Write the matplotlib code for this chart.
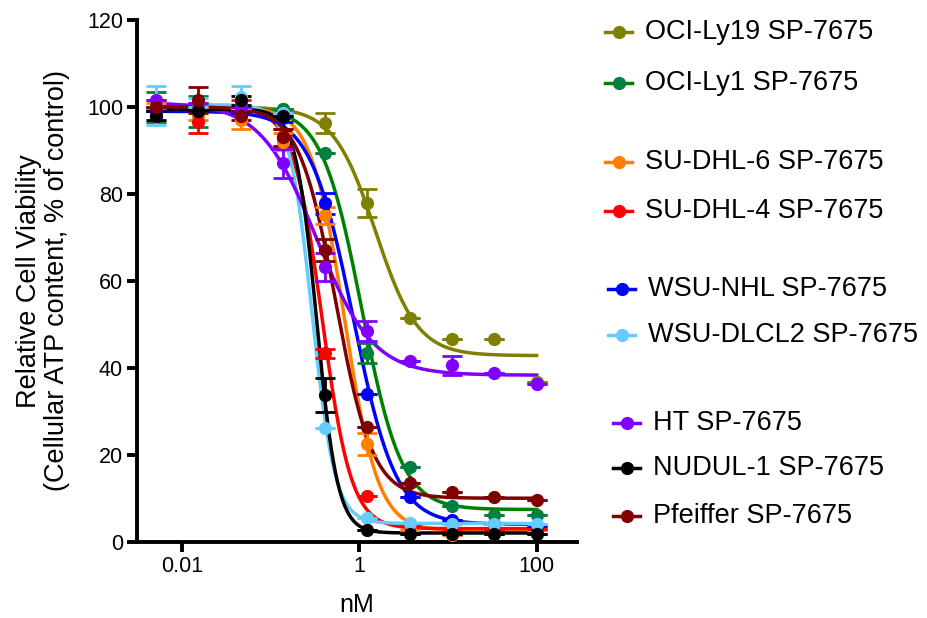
import numpy as np
import matplotlib
matplotlib.use("Agg")
import matplotlib.pyplot as plt
from matplotlib.lines import Line2D
from matplotlib.ticker import NullLocator

plt.rcParams["font.family"] = ["Liberation Sans", "DejaVu Sans"]

# doses (nM), 3-fold dilution
doses = [0.00508, 0.0152, 0.0457, 0.137, 0.412, 1.23, 3.70, 11.1, 33.3, 100]

names = [
    "OCI-Ly19 SP-7675", "OCI-Ly1 SP-7675",
    "SU-DHL-6 SP-7675", "SU-DHL-4 SP-7675",
    "WSU-NHL SP-7675", "WSU-DLCL2 SP-7675",
    "HT SP-7675", "NUDUL-1 SP-7675", "Pfeiffer SP-7675",
]

ly19 = [99.5, 100, 100, 99.5, 96.2, 77.9, 51.5, 46.6, 46.6, 36.8]
ly1 = [100, 99, 100, 99.6, 89.3, 43.3, 17.1, 8.2, 6.1, 6.1]
dhl6 = [100, 98, 97, 92, 75.1, 22.5, 2.7, 1.5, 1.8, 2.8]
dhl4 = [100, 96.5, 100.5, 93, 43.3, 10.6, 3.8, 3.0, 3.0, 3.0]
nhl = [99, 99, 98.5, 97.5, 77.8, 34.0, 10.3, 5.1, 4.0, 3.5]
dlcl2 = [100.3, 101, 102.3, 98.5, 26.1, 5.5, 4.2, 4.0, 4.0, 4.0]
ht = [101.5, 101, 100, 87.0, 63.1, 48.5, 41.5, 40.6, 38.9, 36.3]
nudul = [98, 99, 101.5, 98, 33.7, 2.7, 1.7, 1.7, 1.7, 1.7]
pfeiffer = [100, 101.5, 98, 93, 67.1, 26.4, 13.4, 11.5, 10.2, 9.7]

ly19_sd = [0, 0, 0, 0, 2.3, 3.3, 0, 0, 0, 0]
ly1_sd = [3.5, 3.5, 0, 0, 0, 2.3, 0, 0, 0, 0]
dhl6_sd = [1, 1, 2, 2, 2, 2.5, 0, 0, 0, 0]
dhl4_sd = [0, 2.5, 1, 2, 1, 0, 0, 0, 0, 0]
nhl_sd = [0, 0, 0, 1, 2.5, 0, 0, 0, 0, 0]
dlcl2_sd = [4.5, 1, 2.6, 0, 0, 0, 0, 0, 0, 0]
ht_sd = [0, 0, 0, 3.3, 3.2, 2.3, 0, 2.2, 0, 0]
nudul_sd = [1, 0, 1, 0, 3.9, 0, 0, 0, 0, 0]
pfeiffer_sd = [0, 3, 1, 2, 2.5, 0, 0, 0, 0, 0]

# 4PL fit parameters: top, bottom, IC50 (nM), hill slope
tops = [100, 100, 100, 100, 99, 100.5, 101, 99.5, 100]
bottoms = [42.8, 7.4, 2.5, 3.0, 4.0, 4.2, 38.3, 2.0, 10.0]
ic50s = [1.52, 1.06, 0.68, 0.379, 0.85, 0.293, 0.331, 0.33, 0.543]
hills = [1.83, 1.93, 2.3, 2.62, 1.8, 3.36, 1.37, 3.68, 2.09]

values = [ly19, ly1, dhl6, dhl4, nhl, dlcl2, ht, nudul, pfeiffer]
sds = [ly19_sd, ly1_sd, dhl6_sd, dhl4_sd, nhl_sd, dlcl2_sd, ht_sd, nudul_sd, pfeiffer_sd]
marker_colors = ["#808000", "#008040", "#ff8000", "#ff0000", "#0000ff",
                 "#66ccff", "#8000ff", "#000000", "#800000"]
line_colors = ["#808000", "#008000", "#ff8000", "#ff0000", "#0000ff",
               "#66ccff", "#8000ff", "#000000", "#800000"]

fig = plt.figure(figsize=(9.27, 6.18), dpi=100)
ax = fig.add_axes([137 / 927, 1 - 541.7 / 618, 440 / 927, 521.7 / 618])

xfit = np.logspace(np.log10(doses[0]), np.log10(doses[-1]), 400)
for i in range(len(names)):
    yfit = bottoms[i] + (tops[i] - bottoms[i]) / (1 + (xfit / ic50s[i]) ** hills[i])
    ax.plot(xfit, yfit, color=line_colors[i], lw=2.5, zorder=2)
for i in range(len(names)):
    ax.errorbar(doses, values[i], yerr=sds[i], fmt="o", color=marker_colors[i],
                ms=8.5, capsize=7.5, capthick=2, elinewidth=2, zorder=3)

ax.set_xscale("log")
ax.set_xlim(0.0031, 285)
ax.set_ylim(0, 120)
ax.set_xticks([0.01, 1, 100])
ax.set_xticklabels(["0.01", "1", "100"])
ax.xaxis.set_minor_locator(NullLocator())
ax.set_yticks([0, 20, 40, 60, 80, 100, 120])
for s in ["top", "right"]:
    ax.spines[s].set_visible(False)
for s in ["left", "bottom"]:
    ax.spines[s].set_linewidth(2.8)
ax.tick_params(width=2.8, length=7, labelsize=15.5, pad=3)
ax.set_xlabel("nM", fontsize=18, labelpad=12)
ax.set_ylabel("Relative Cell Viability\n(Cellular ATP content, % of control)",
              fontsize=19.5, labelpad=12, linespacing=1.1)

# legend drawn by hand to keep the grouped spacing
leg_y = [31.7, 82.7, 162.3, 210.7, 289.3, 335, 423.3, 468.3, 516]
leg_x = [605, 605, 605, 605, 608, 608, 613, 613, 613]
for i in range(len(names)):
    y = 1 - leg_y[i] / 618
    x0 = leg_x[i] / 927
    x1 = (leg_x[i] + 27) / 927
    fig.add_artist(Line2D([x0, x1], [y, y], color=line_colors[i], lw=2.5,
                          transform=fig.transFigure))
    fig.add_artist(Line2D([(x0 + x1) / 2], [y], marker="o", ms=8.5,
                          color=marker_colors[i], transform=fig.transFigure))
    fig.text((leg_x[i] + 40) / 927, y, names[i], fontsize=19.5,
             va="center", ha="left")

fig.savefig("out.png", dpi=100)
